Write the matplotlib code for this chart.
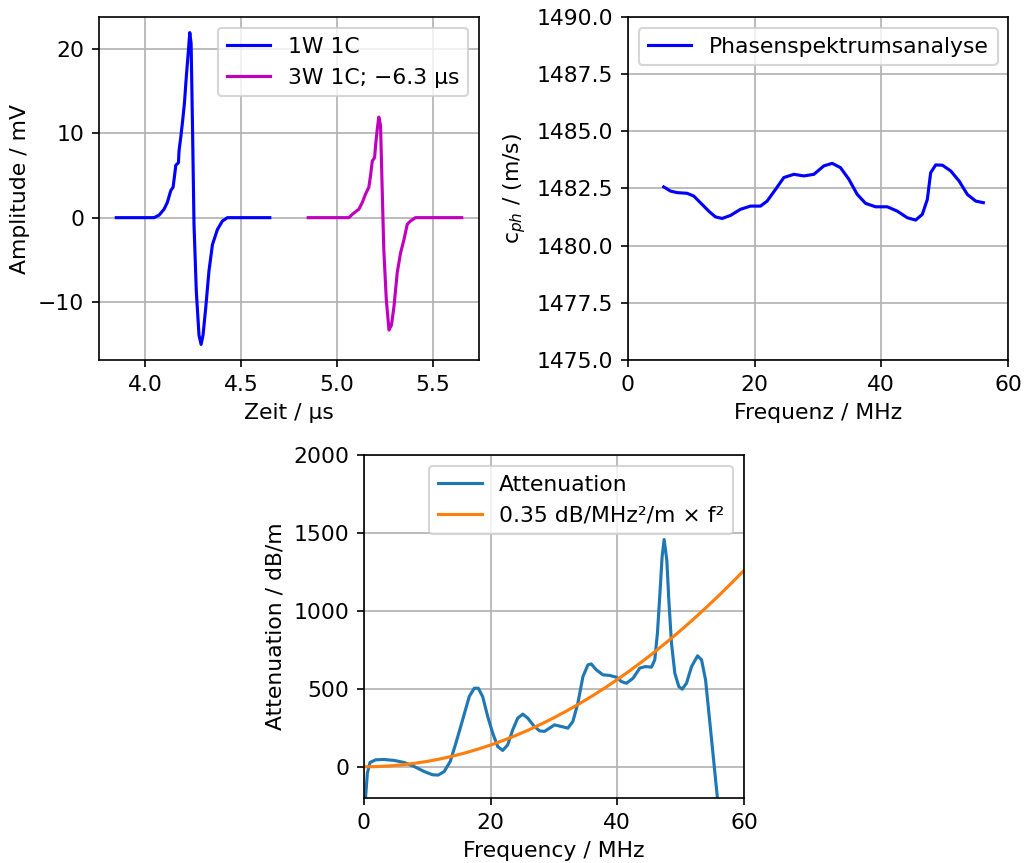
import matplotlib
matplotlib.use("Agg")
import matplotlib.pyplot as plt

# ---- Data: top-left (time signals) ----
t1 = [3.85, 4.047, 4.073, 4.099, 4.116, 4.134, 4.146, 4.155, 4.160, 4.174, 4.177, 4.186,
      4.194, 4.205, 4.215, 4.226, 4.233, 4.240, 4.247, 4.255, 4.267, 4.281, 4.292, 4.302,
      4.316, 4.333, 4.351, 4.377, 4.403, 4.429, 4.65]
a1 = [0, 0, 0.3, 1.0, 1.8, 3.2, 3.6, 5.2, 6.2, 6.5, 7.9, 9.5,
      11.1, 13.5, 16.7, 19.8, 21.9, 20.6, 11.1, -0.8, -8.7, -13.9, -15.0, -13.9,
      -10.7, -6.3, -3.2, -1.4, -0.4, 0, 0]
t2 = [4.85, 5.062, 5.080, 5.114, 5.132, 5.149, 5.166, 5.175, 5.184, 5.196, 5.201, 5.210,
      5.218, 5.227, 5.236, 5.244, 5.257, 5.271, 5.284, 5.297, 5.314, 5.331, 5.349, 5.366,
      5.383, 5.409, 5.65]
a2 = [0, 0, 0.4, 1.0, 1.8, 2.8, 3.6, 5.0, 6.7, 7.1, 8.5, 10.5,
      11.9, 10.9, 3.0, -3.8, -9.7, -13.3, -12.7, -10.5, -6.5, -4.2, -2.6, -0.8,
      -0.4, 0, 0]

# ---- Data: top-right (phase velocity) ----
f_ph = [5.64, 6.69, 7.74, 9.33, 10.38, 11.43, 12.75, 13.80, 14.86, 16.17, 17.76, 19.34,
        20.92, 21.97, 23.29, 24.61, 26.19, 27.77, 29.35, 30.93, 32.24, 33.56, 34.88, 36.20,
        37.51, 39.09, 40.94, 42.52, 44.10, 45.42, 46.47, 47.26, 47.79, 48.58, 49.63, 50.95,
        52.27, 53.58, 54.90, 56.11]
c_ph = [1482.57, 1482.39, 1482.32, 1482.29, 1482.17, 1481.88, 1481.51, 1481.26, 1481.19,
        1481.32, 1481.59, 1481.73, 1481.73, 1481.95, 1482.46, 1482.98, 1483.12, 1483.05,
        1483.12, 1483.49, 1483.60, 1483.41, 1482.90, 1482.24, 1481.85, 1481.70, 1481.70,
        1481.51, 1481.22, 1481.12, 1481.37, 1482.02, 1483.19, 1483.53, 1483.52, 1483.27,
        1482.83, 1482.24, 1481.95, 1481.88]

# ---- Data: bottom (attenuation) ----
f_att = [0.26, 0.53, 0.95, 1.85, 3.17, 4.75, 6.33, 7.92, 9.50, 10.82, 11.72, 12.66, 13.61,
         14.51, 15.57, 16.62, 17.41, 18.05, 18.73, 19.53, 20.32, 21.11, 21.90, 22.69, 23.48,
         24.27, 25.07, 25.86, 26.81, 27.70, 28.50, 29.29, 30.08, 31.13, 32.19, 32.98, 33.77,
         34.57, 35.36, 35.88, 36.68, 37.73, 38.79, 39.84, 40.63, 41.43, 42.48, 43.54, 44.43,
         45.38, 45.91, 46.33, 46.76, 47.07, 47.39, 47.81, 48.13, 48.55, 49.08, 49.71, 50.24,
         50.92, 51.72, 52.67, 53.30, 53.93, 54.46, 54.99, 55.41, 55.78]
att = [-190, -41, 28, 45, 47, 41, 28, 2, -30, -51, -53, -30, 34,
       152, 301, 451, 504, 504, 451, 323, 216, 130, 105, 141, 237,
       312, 338, 312, 263, 231, 227, 248, 269, 259, 248, 291, 408,
       579, 654, 660, 622, 590, 586, 575, 547, 536, 568, 633, 643,
       639, 686, 857, 1135, 1348, 1458, 1327, 1071, 793, 600, 515, 498,
       536, 643, 712, 686, 558, 344, 130, -41, -190]
f_fit = [0, 2, 4, 6, 8, 10, 12, 14, 16, 18, 20, 22, 24, 26, 28, 30, 32, 34, 36, 38, 40,
         42, 44, 46, 48, 50, 52, 54, 56, 58, 60]
att_fit = [0, 1.4, 5.6, 12.6, 22.4, 35, 50.4, 68.6, 89.6, 113.4, 140, 169.4, 201.6, 236.6,
           274.4, 315, 358.4, 404.6, 453.6, 505.4, 560, 617.4, 677.6, 740.6, 806.4, 875,
           946.4, 1020.6, 1097.6, 1177.4, 1260]

plt.rcParams['font.size'] = 10.5
fig = plt.figure(figsize=(1024/150, 863/150), dpi=150)

W = 380/1024
H = 343/863
ax1 = fig.add_axes([99/1024, 1-360/863, W, H])
ax2 = fig.add_axes([628/1024, 1-360/863, W, H])
ax3 = fig.add_axes([364/1024, 1-798/863, W, H])

ax1.plot(t1, a1, color='b', label='1W 1C')
ax1.plot(t2, a2, color='m', label='3W 1C; \u22126.3 \u00b5s')
ax1.set_xlabel('Zeit / \u00b5s')
ax1.set_ylabel('Amplitude / mV')
ax1.set_xticks([4.0, 4.5, 5.0, 5.5])
ax1.set_yticks([-10, 0, 10, 20])
ax1.grid(True)
ax1.legend(loc='upper right')

ax2.plot(f_ph, c_ph, color='b', label='Phasenspektrumsanalyse')
ax2.set_xlim(0, 60)
ax2.set_ylim(1475, 1490)
ax2.set_yticks([1475.0, 1477.5, 1480.0, 1482.5, 1485.0, 1487.5, 1490.0])
ax2.set_yticklabels(['1475.0', '1477.5', '1480.0', '1482.5', '1485.0', '1487.5', '1490.0'])
ax2.set_xticks([0, 20, 40, 60])
ax2.set_xlabel('Frequenz / MHz')
ax2.set_ylabel(r'c$_{ph}$ / (m/s)')
ax2.grid(True)
ax2.legend(loc='upper left')

ax3.plot(f_att, att, color='C0', label='Attenuation')
ax3.plot(f_fit, att_fit, color='C1', label='0.35 dB/MHz\u00b2/m \u00d7 f\u00b2')
ax3.set_xlim(0, 60)
ax3.set_ylim(-200, 2000)
ax3.set_xticks([0, 20, 40, 60])
ax3.set_yticks([0, 500, 1000, 1500, 2000])
ax3.set_xlabel('Frequency / MHz')
ax3.set_ylabel('Attenuation / dB/m')
ax3.grid(True)
ax3.legend(loc='upper right')

fig.savefig('out.png', dpi=150)
